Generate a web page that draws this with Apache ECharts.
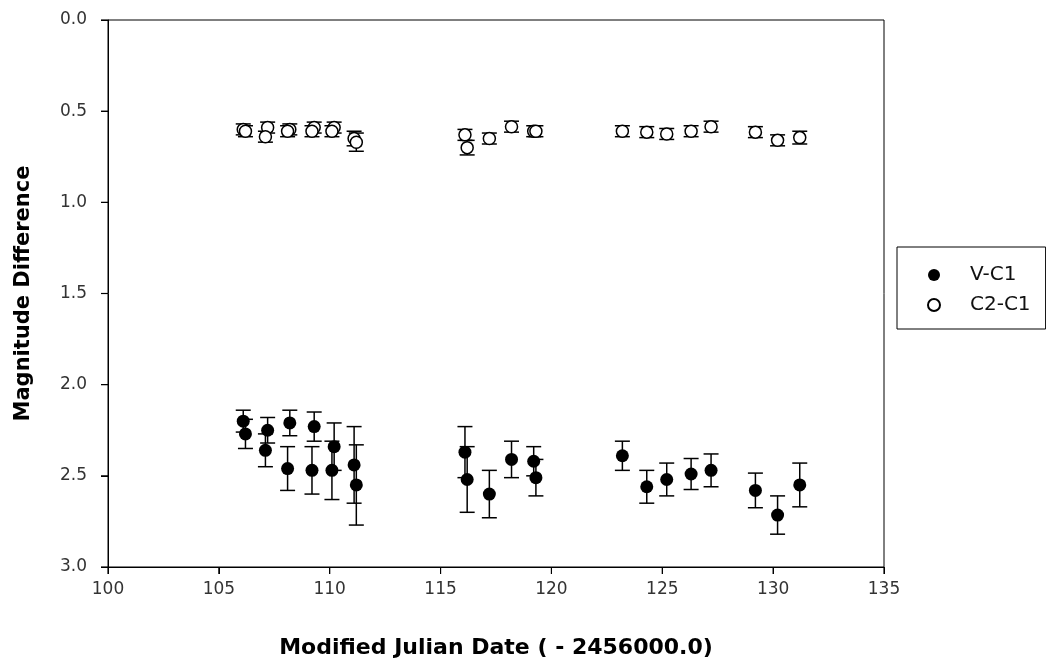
<!DOCTYPE html>
<html>
<head>
    <meta charset="utf-8">
    <title>Magnitude Difference</title>
    <script src="https://cdn.jsdelivr.net/npm/echarts@6/dist/echarts.min.js"></script>
    <style>
        html, body { margin: 0; padding: 0; background: #fff; }
        #chart { width: 1046px; height: 664px; }
    </style>
</head>
<body>
<div id="chart"></div>
<script>
    // MJD - 2456000.0
    var dates = [106.1, 106.2, 107.2, 107.1, 108.2, 108.1, 109.3, 109.2, 110.2, 110.1, 111.1, 111.2,
        116.1, 116.2, 117.2, 118.2, 119.2, 119.3,
        123.2, 124.3, 125.2, 126.3, 127.2, 129.2, 130.2, 131.2];
    var vc1 = [2.20, 2.27, 2.25, 2.36, 2.21, 2.46, 2.23, 2.47, 2.34, 2.47, 2.44, 2.55,
        2.37, 2.52, 2.60, 2.41, 2.42, 2.51,
        2.39, 2.56, 2.52, 2.49, 2.47, 2.58, 2.715, 2.55];
    var vc1Err = [0.06, 0.08, 0.07, 0.09, 0.07, 0.12, 0.08, 0.13, 0.13, 0.16, 0.21, 0.22,
        0.14, 0.18, 0.13, 0.10, 0.08, 0.10,
        0.08, 0.09, 0.09, 0.085, 0.09, 0.095, 0.105, 0.12];
    var c2c1 = [0.60, 0.61, 0.59, 0.64, 0.60, 0.61, 0.59, 0.61, 0.59, 0.61, 0.65, 0.67,
        0.63, 0.70, 0.65, 0.585, 0.61, 0.61,
        0.61, 0.615, 0.625, 0.61, 0.585, 0.615, 0.66, 0.645];
    var c2c1Err = [0.03, 0.03, 0.03, 0.03, 0.03, 0.03, 0.03, 0.03, 0.03, 0.03, 0.04, 0.05,
        0.03, 0.04, 0.03, 0.03, 0.03, 0.03,
        0.03, 0.03, 0.03, 0.03, 0.03, 0.03, 0.03, 0.035];
    var xTicks = [100, 105, 110, 115, 120, 125, 130, 135];
    var yTicks = [0, 0.5, 1, 1.5, 2, 2.5, 3];

    function pts(ys) {
        return dates.map(function (d, i) { return [d, ys[i]]; });
    }
    function bars(ys, errs) {
        return dates.map(function (d, i) { return [d, ys[i], errs[i]]; });
    }

    function renderErr(params, api) {
        var x = api.value(0), y = api.value(1), e = api.value(2);
        var top = api.coord([x, y - e]);
        var bot = api.coord([x, y + e]);
        var w = 7.5;
        var st = { stroke: '#000', lineWidth: 1.5 };
        return {
            type: 'group',
            children: [
                { type: 'line', shape: { x1: top[0], y1: top[1], x2: bot[0], y2: bot[1] }, style: st },
                { type: 'line', shape: { x1: top[0] - w, y1: top[1], x2: top[0] + w, y2: top[1] }, style: st },
                { type: 'line', shape: { x1: bot[0] - w, y1: bot[1], x2: bot[0] + w, y2: bot[1] }, style: st }
            ]
        };
    }

    // outward axis ticks (the built-in ones don't show up here)
    function renderTick(params, api) {
        var p = api.coord([api.value(0), api.value(1)]);
        var horiz = api.value(2) === 1;
        return {
            type: 'line',
            shape: horiz ? { x1: p[0] - 7, y1: p[1], x2: p[0], y2: p[1] }
                         : { x1: p[0], y1: p[1], x2: p[0], y2: p[1] + 7 },
            style: { stroke: '#000', lineWidth: 1.2 }
        };
    }
    var tickData = xTicks.map(function (v) { return [v, 3, 0]; })
        .concat(yTicks.map(function (v) { return [100, v, 1]; }));

    var chart = echarts.init(document.getElementById('chart'));
    var nameStyle = { color: '#000', fontFamily: 'DejaVu Sans', fontSize: 21, fontWeight: 'bold' };

    chart.setOption({
        animation: false,
        grid: {
            left: 108, right: 162, top: 20, bottom: 96,
            show: true, borderColor: '#000', borderWidth: 1
        },
        legend: {
            orient: 'vertical',
            left: 897, top: 247,
            borderColor: '#000', borderWidth: 1,
            padding: [18, 15, 14, 30],
            itemGap: 10,
            itemWidth: 12, itemHeight: 12,
            textStyle: { color: '#111', fontFamily: 'DejaVu Sans', fontSize: 20, padding: [0, 0, 0, 25] },
            data: [
                { name: 'V-C1', icon: 'circle' },
                { name: 'C2-C1', icon: 'circle' }
            ]
        },
        xAxis: {
            type: 'value',
            min: 100, max: 135, interval: 5,
            name: 'Modified Julian Date ( - 2456000.0)',
            nameLocation: 'middle', nameGap: 70,
            nameTextStyle: { color: '#000', fontFamily: 'DejaVu Sans', fontSize: 22, fontWeight: 'bold' },
            axisLine: { show: true, onZero: false, lineStyle: { color: '#000' } },
            axisTick: { show: true, length: 7, lineStyle: { color: '#000' } },
            axisLabel: { margin: 14, color: '#333', fontFamily: 'DejaVu Sans', fontSize: 17 },
            splitLine: { show: false }
        },
        yAxis: {
            type: 'value',
            inverse: true,
            min: 0, max: 3, interval: 0.5,
            name: 'Magnitude Difference',
            nameLocation: 'middle', nameGap: 74,
            nameTextStyle: nameStyle,
            axisLine: { show: true, lineStyle: { color: '#000' } },
            axisTick: { show: true, length: 7, lineStyle: { color: '#000' } },
            axisLabel: { margin: 21, color: '#333', fontFamily: 'DejaVu Sans', fontSize: 17,
                formatter: function (v) { return v.toFixed(1); } },
            splitLine: { show: false }
        },
        series: [
            {
                type: 'custom', name: 'ticks', silent: true, z: 1, clip: false,
                renderItem: renderTick, data: tickData
            },
            {
                type: 'custom', name: 'vErr', silent: true, z: 1,
                renderItem: renderErr, data: bars(vc1, vc1Err)
            },
            {
                type: 'custom', name: 'cErr', silent: true, z: 1,
                renderItem: renderErr, data: bars(c2c1, c2c1Err)
            },
            {
                name: 'V-C1', type: 'scatter', z: 3,
                symbol: 'circle', symbolSize: 13,
                itemStyle: { color: '#000', opacity: 1 },
                data: pts(vc1)
            },
            {
                name: 'C2-C1', type: 'scatter', z: 3,
                symbol: 'circle', symbolSize: 12,
                itemStyle: { color: '#fff', borderColor: '#000', borderWidth: 1.5, opacity: 1 },
                data: pts(c2c1)
            }
        ]
    });
</script>
</body>
</html>
